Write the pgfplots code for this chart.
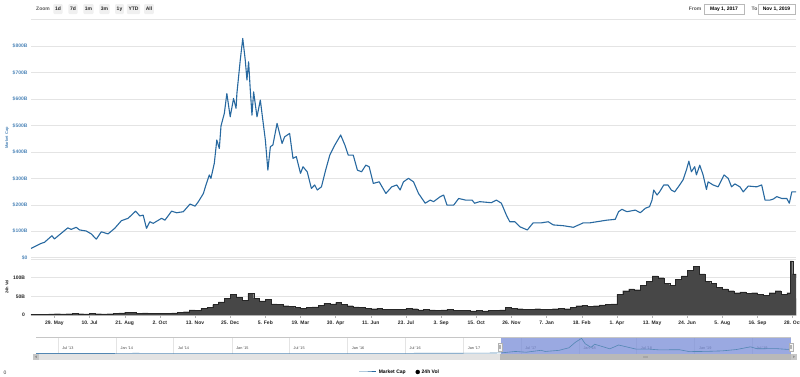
\documentclass[border=0pt]{standalone}
\usepackage{pgfplots}
\pgfplotsset{compat=1.18}
\usepackage{fontspec}
\setmainfont{Liberation Sans}
\definecolor{mcblue}{RGB}{40,105,160}
\definecolor{lblblue}{RGB}{80,135,185}
\definecolor{gridc}{RGB}{228,228,228}
\definecolor{navmask}{RGB}{120,140,215}

\pgfplotstableread{
d v
0 35
12 54
16 58
25 83
28 71
36 92
44 113
48 107
54 115
58 105
66 101
72 90
78 70
84 98
92 90
100 111
108 140
116 149
125 176
130 158
134 161
138 111
142 136
146 130
156 149
160 142
168 176
174 170
182 174
190 203
196 195
200 212
206 243
209 275
213 313
215 300
219 357
222 445
225 413
227 498
231 546
234 621
238 533
242 602
245 565
246 621
250 747
253 829
256 747
258 672
260 741
262 634
264 539
266 627
270 533
274 596
277 520
280 445
283 331
286 420
289 426
294 508
300 432
303 457
309 470
313 376
317 382
322 319
325 344
330 325
335 262
339 275
342 256
347 268
352 331
357 388
363 426
370 464
375 426
379 388
385 388
390 331
395 325
400 350
404 344
409 281
416 287
424 243
431 268
437 275
441 256
445 287
451 300
457 287
463 243
471 206
477 218
481 212
489 231
493 237
497 199
505 199
511 224
519 218
527 218
530 206
536 212
550 208
556 218
562 206
568 161
572 136
578 136
584 117
593 105
600 132
610 132
618 136
624 124
636 121
648 115
660 132
668 132
676 136
688 142
698 145
702 174
706 183
712 174
722 180
728 170
734 187
739 193
742 218
744 256
748 237
751 249
756 275
761 275
765 256
769 249
775 275
779 294
783 331
786 365
789 325
793 344
795 313
799 350
803 313
807 258
809 287
815 275
821 268
828 313
833 300
837 268
841 279
847 268
851 249
857 271
867 268
873 275
877 218
883 218
887 222
891 231
897 224
903 224
906 206
909 249
914 249
}\mcap

\pgfplotstableread{
d v
0 1.5
7 1.8
14 2.5
21 3
28 3.5
35 3
42 3.5
49 4
56 3.5
63 3
70 4
77 3.5
84 3
91 3.5
98 5
105 6
112 8
119 7
126 5
133 6
140 5
147 4
154 5
161 5
168 6
175 8
182 9
189 14
196 12
203 18
210 20
217 28
224 35
231 45
238 55
245 48
252 40
259 58
266 45
273 38
280 42
287 30
294 28
301 25
308 24
315 20
322 18
329 20
336 22
343 26
350 32
357 30
364 34
371 28
378 25
385 22
392 20
399 18
406 17
413 18
420 15
427 16
434 15
441 16
448 18
455 17
462 14
469 15
476 14
483 13
490 14
497 15
504 13
511 12
518 12
525 11
532 12
539 11
546 12
553 13
560 14
567 20
574 18
581 17
588 16
595 15
602 17
609 16
616 15
623 17
630 18
637 17
644 20
651 25
658 26
665 24
672 25
679 27
686 28
693 30
700 55
707 65
714 70
721 68
728 80
735 90
742 105
749 100
756 85
763 80
770 95
777 105
784 120
791 130
798 110
805 90
812 85
819 75
826 70
833 65
840 60
847 62
854 58
861 60
868 55
875 52
882 60
889 65
896 55
903 60
907 145
910 110
914 90
}\vol

\pgfplotstableread{
d v
-1469 1.5
-1400 1.3
-1300 1.8
-1250 2.2
-1200 4
-1170 10
-1155 14
-1140 11
-1100 9
-1050 8
-1000 7
-950 6.5
-900 6
-850 5
-800 4
-750 3.8
-700 3.5
-650 4.2
-600 4
-550 4.5
-500 6
-460 7
-420 8
-380 10
-350 9
-300 11
-250 12
-200 13
-150 14
-120 17
-90 18
-60 22
-30 26
0 35
44 113
78 70
125 176
138 111
182 174
213 313
234 621
253 829
264 539
283 331
294 508
342 256
370 464
424 243
463 243
497 199
562 206
593 105
648 115
698 145
742 218
786 365
807 258
867 268
903 224
914 249
}\nav

\begin{document}
\begin{tikzpicture}[x=1pt,y=-1pt,font=\fontsize{5}{6}\selectfont]
\path[use as bounding box] (0,0) rectangle (800,376);

% --- top controls
\node[anchor=west,text=gray!70!black,inner sep=0] at (36,9) {\bfseries Zoom};
\foreach \c/\t in {58/1d,73/7d,88.5/1m,104.5/3m,119.5/1y,133.5/YTD,149/All}
  \node[fill=gray!12,rounded corners=1pt,inner sep=1.6pt,minimum height=10pt,text=gray!30!black] at (\c,9) {\bfseries\t};
\node[text=gray!70!black] at (695,9) {\bfseries From};
\node[draw=gray!55,minimum width=40pt,minimum height=10pt,inner sep=0] at (724,9) {\bfseries May 1, 2017};
\node[text=gray!70!black] at (754.5,9) {\bfseries To};
\node[draw=gray!55,minimum width=37pt,minimum height=10pt,inner sep=0] at (776.5,9) {\bfseries Nov 1, 2019};

% --- axis titles
\node[rotate=90,text=lblblue,font=\fontsize{4}{5}\selectfont\bfseries] at (7,138) {Market Cap};
\node[rotate=90,text=gray!30!black,font=\fontsize{4}{5}\selectfont\bfseries] at (7,287) {24h Vol};
\node[text=gray!40!black] at (5,373) {0};

% --- main market cap axis
\begin{axis}[
  at={(31pt,-257.7pt)}, anchor=south west, scale only axis,
  width=765pt, height=238pt,
  xmin=0, xmax=914, ymin=0, ymax=900,
  axis line style={draw=none},
  xtick=\empty,
  ytick={0,100,...,900},
  yticklabels={\$0,\$100B,\$200B,\$300B,\$400B,\$500B,\$600B,\$700B,\$800B,},
  yticklabel style={text=lblblue,font=\fontsize{5}{6}\selectfont\bfseries},
  ymajorgrids, grid style={gridc,line width=0.5pt},
  major tick length=0pt,
]
\addplot[mcblue,line width=1.1pt,line join=round] table[x=d,y=v]{\mcap};
\end{axis}

% --- volume axis
\begin{axis}[
  at={(31pt,-315pt)}, anchor=south west, scale only axis,
  width=765pt, height=56pt,
  xmin=0, xmax=914, ymin=0, ymax=150,
  axis line style={draw=none},
  ytick={0,50,100,150},
  yticklabels={0,50B,100B,},
  yticklabel style={text=gray!30!black,font=\fontsize{5}{6}\selectfont\bfseries},
  ymajorgrids, grid style={gridc,line width=0.5pt},
  xtick={28,70,...,910},
  xticklabels={29. May,10. Jul,21. Aug,2. Oct,13. Nov,25. Dec,5. Feb,19. Mar,30. Apr,11. Jun,23. Jul,3. Sep,15. Oct,26. Nov,7. Jan,18. Feb,1. Apr,13. May,24. Jun,5. Aug,16. Sep,28. Oct},
  xticklabel style={text=gray!30!black,font=\fontsize{5}{6}\selectfont\bfseries},
  xtick style={gray!60,line width=0.4pt},
  ytick style={draw=none},
  tick align=outside, xtick pos=bottom,
  major tick length=2.5pt,
  clip=true,
]
\addplot[const plot,fill=black!72,draw=black!85,line width=0.2pt] table[x=d,y=v]{\vol} \closedcycle;
\draw[gray!60,line width=0.5pt] (rel axis cs:0,0) -- (rel axis cs:1,0);
\end{axis}

% --- navigator scrollbar
\fill[gray!22] (33,354) rectangle (797,359.5);
\fill[gray!55] (500,354) rectangle (791,359.5);
\fill[gray!70] (643,355.8) rectangle (648,357.8);
\fill[gray!45] (33,354) rectangle (38.5,359.5);
\fill[gray!45] (791,354) rectangle (797,359.5);
\fill[gray!85] (36.8,355.5) -- (34.8,356.75) -- (36.8,358) -- cycle;
\fill[gray!85] (793,355.5) -- (795,356.75) -- (793,358) -- cycle;

% --- navigator
\begin{axis}[
  at={(36pt,-353.5pt)}, anchor=south west, scale only axis,
  width=755pt, height=16.5pt,
  xmin=-1469, xmax=914, ymin=0, ymax=900,
  axis line style={draw=none},
  ytick=\empty,
  xtick={-1400,-1216,-1035,-851,-670,-486,-304,-120,61,245,426,610,791},
  xticklabels={Jul '13,Jan '14,Jul '14,Jan '15,Jul '15,Jan '16,Jul '16,Jan '17,Jul '17,Jan '18,Jul '18,Jan '19,Jul '19},
  xticklabel style={anchor=south west,xshift=1pt,yshift=0.5pt,text=gray!55!black,font=\fontsize{3.8}{4}\selectfont},
  xmajorgrids, grid style={gridc,line width=0.5pt},
  major tick length=0pt,
  legend style={at={(0.482,-1.12)},anchor=center,draw=none,fill=none,
    legend columns=2,font=\fontsize{5}{6}\selectfont\bfseries,
    /tikz/every even column/.append style={column sep=8pt}},
  legend cell align=left,
]
\addlegendimage{line legend,mcblue,line width=1pt}
\addlegendentry{Market Cap}
\addlegendimage{only marks,mark=*,mark size=2pt,black}
\addlegendentry{24h Vol}
\addplot[draw=none,fill=navmask,fill opacity=0.75,forget plot] coordinates {(0,900) (914,900)} \closedcycle;
\addplot[mcblue!80,line width=0.6pt,forget plot] table[x=d,y=v]{\nav};
\draw[gray!45,line width=0.5pt] (rel axis cs:0,1) -- (rel axis cs:1,1);
\end{axis}

% navigator handles
\foreach \hx in {500,791}{
  \fill[gray!8] (\hx-1.8,343) rectangle (\hx+1.8,351);
  \draw[gray!60,line width=0.4pt] (\hx-1.8,343) rectangle (\hx+1.8,351);
  \draw[gray!60,line width=0.3pt] (\hx-0.5,345) -- (\hx-0.5,349) (\hx+0.5,345) -- (\hx+0.5,349);
}
\end{tikzpicture}
\end{document}
